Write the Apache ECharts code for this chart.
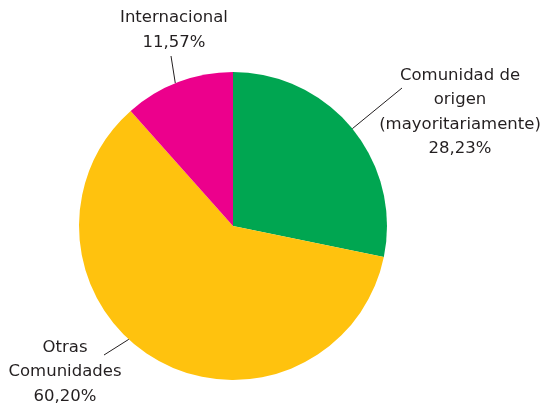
<!DOCTYPE html>
<html><head><meta charset="utf-8">
<script src="https://cdn.jsdelivr.net/npm/echarts@6/dist/echarts.min.js"></script>
<style>html,body{margin:0;padding:0;background:#fff}#c{width:544px;height:409px}</style>
</head><body><div id="c"></div>
<script>
const categories = ['Comunidad de\norigen\n(mayoritariamente)', 'Otras\nComunidades', 'Internacional'];
const values = [28.23, 60.20, 11.57];
const colors = ['#00A651', '#FFC20E', '#EC008C'];

// label placement (styling): text block centre, line anchor angle on rim, line end
const labelPos = [
  {x: 460, y: 112, angle: 39.2, end: [402, 88]},
  {x: 65, y: 372, angle: -132.6, end: [104, 355]},
  {x: 174, y: 30, angle: 112, end: [171, 56]}
];
const CX = 233, CY = 226, R = 154;

const chart = echarts.init(document.getElementById('c'), null, {renderer: 'canvas'});
chart.setOption({
  animation: false,
  series: [{
    type: 'pie',
    center: [CX, CY],
    radius: R,
    startAngle: 90,
    clockwise: true,
    data: categories.map((n, i) => ({name: n, value: values[i], itemStyle: {color: colors[i]}})),
    itemStyle: {borderWidth: 0},
    emphasis: {disabled: true},
    label: {
      show: true,
      position: 'outside',
      color: '#231f20',
      fontFamily: 'DejaVu Sans',
      fontSize: 16.5,
      lineHeight: 24.5,
      align: 'center',
      overflow: 'none',
      formatter: p => p.name + '\n' + p.value.toFixed(2).replace('.', ',') + '%'
    },
    labelLine: {show: true, lineStyle: {color: '#231f20', width: 1}},
    labelLayout: function (params) {
      const L = labelPos[params.dataIndex];
      const a = L.angle * Math.PI / 180;
      const sx = CX + R * Math.cos(a), sy = CY - R * Math.sin(a);
      return {
        x: L.x, y: L.y, align: 'center', verticalAlign: 'middle',
        labelLinePoints: [[sx, sy], L.end, L.end]
      };
    }
  }]
});
</script></body></html>
